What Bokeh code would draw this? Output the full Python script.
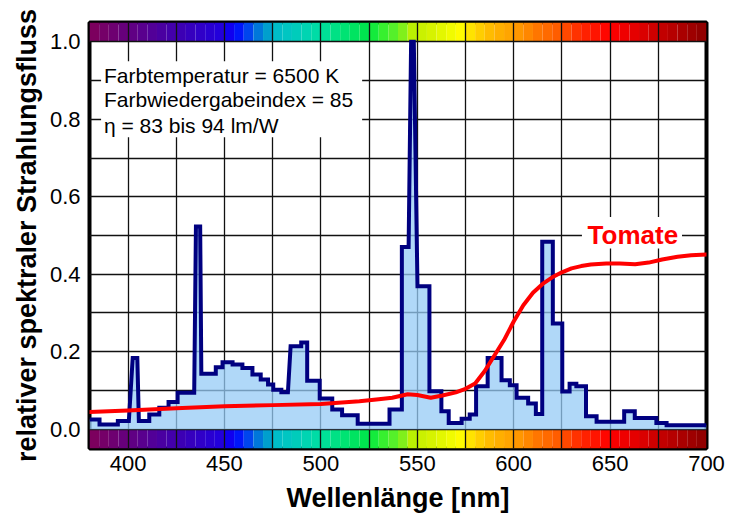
import numpy as np
from bokeh.plotting import figure
from bokeh.models import FixedTicker, PrintfTickFormatter, BoxAnnotation, Label, Range1d
from bokeh.embed import file_html
from bokeh.resources import INLINE

# ---------------- data ----------------
spec_nm = [380, 385.2, 385.2, 394.7, 394.7, 400.4, 402.4, 404.8, 405.6, 411.0, 411.0, 416.2, 416.2,
           421.0, 421.0, 425.7, 425.7, 434.3, 435.2, 437.4, 438.0, 445.5, 445.5, 449.0, 449.0,
           454.2, 454.2, 459.3, 459.3, 464.5, 464.5, 468.8, 468.8, 472.6, 472.6, 475.3, 475.3,
           479.5, 479.5, 482.9, 484.3, 489.8, 489.8, 492.9, 492.9, 499.4, 499.4, 505.9, 505.9,
           511.0, 511.0, 519.1, 519.1, 535.6, 535.6, 542.0, 542.0, 545.5, 546.8, 548.2, 550.1,
           556.3, 556.3, 562.5, 562.5, 566.3, 566.3, 573.0, 573.0, 577.2, 577.2, 580.5, 580.5,
           586.5, 586.5, 593.7, 593.7, 598.0, 598.0, 601.5, 601.5, 607.5, 607.5, 611.5, 611.5,
           614.8, 614.8, 620.3, 620.3, 625.2, 625.2, 629.0, 629.0, 632.5, 632.5, 637.5, 637.5,
           643.0, 643.0, 657.3, 657.3, 662.8, 662.8, 674.0, 674.0, 679.3, 679.3, 700]
spec_val = [0.025, 0.025, 0.012, 0.012, 0.021, 0.021, 0.184, 0.184, 0.021, 0.021, 0.038, 0.038, 0.055,
            0.055, 0.070, 0.070, 0.094, 0.094, 0.523, 0.523, 0.143, 0.143, 0.160, 0.160, 0.173,
            0.173, 0.167, 0.167, 0.158, 0.158, 0.141, 0.141, 0.128, 0.128, 0.115, 0.115, 0.102,
            0.102, 0.095, 0.095, 0.214, 0.214, 0.224, 0.224, 0.125, 0.125, 0.079, 0.079, 0.051,
            0.051, 0.036, 0.036, 0.014, 0.014, 0.051, 0.051, 0.470, 0.470, 1.000, 1.000, 0.369,
            0.369, 0.098, 0.098, 0.046, 0.046, 0.016, 0.016, 0.027, 0.027, 0.038, 0.038, 0.111,
            0.111, 0.184, 0.184, 0.126, 0.126, 0.113, 0.113, 0.081, 0.081, 0.066, 0.066, 0.039,
            0.039, 0.484, 0.484, 0.273, 0.273, 0.097, 0.097, 0.117, 0.117, 0.111, 0.111, 0.033,
            0.033, 0.019, 0.019, 0.046, 0.046, 0.029, 0.029, 0.016, 0.016, 0.010, 0.010]

tomato_nm = [380, 400, 425, 450, 475, 500, 520, 530, 537, 545, 550, 557, 563, 570, 575, 580, 585,
             590, 595, 600, 605, 610, 615, 620, 625, 630, 635, 640, 648, 655, 663, 670, 677, 685,
             692, 700]
tomato_val = [0.044, 0.048, 0.054, 0.059, 0.062, 0.065, 0.072, 0.077, 0.081, 0.090, 0.088, 0.081,
              0.087, 0.095, 0.104, 0.118, 0.150, 0.190, 0.230, 0.278, 0.320, 0.352, 0.375, 0.392,
              0.405, 0.415, 0.421, 0.425, 0.428, 0.428, 0.426, 0.430, 0.438, 0.445, 0.449, 0.451]

x_ticks = [400, 450, 500, 550, 600, 650, 700]
y_ticks = [0.0, 0.2, 0.4, 0.6, 0.8, 1.0]
x_grid = [400, 425, 450, 475, 500, 525, 550, 575, 600, 625, 650, 675, 700]
y_grid = [0.0, 0.1, 0.2, 0.3, 0.4, 0.5, 0.6, 0.7, 0.8, 0.9, 1.0]

info_lines = ["Farbtemperatur = 6500 K", "Farbwiedergabeindex = 85", "η = 83 bis 94 lm/W"]
curve_label = "Tomate"
x_title = "Wellenlänge [nm]"
y_title = "relativer spektraler Strahlungsfluss"

# colour strip (decoration): 5 nm cells, colours from anchor points
strip_left = list(range(380, 700, 5))
strip_anchor_nm = [380, 400, 425, 450, 455, 462, 470, 478, 490, 500, 525, 530, 540, 548, 560,
                   572, 580, 590, 600, 612, 622, 635, 650, 665, 675, 700]
strip_anchor_rgb = [(128, 0, 90), (100, 0, 128), (64, 0, 176), (32, 0, 224), (0, 0, 255),
                    (0, 64, 240), (0, 144, 208), (0, 192, 200), (0, 208, 184), (0, 224, 160),
                    (0, 230, 70), (40, 240, 50), (100, 240, 40), (192, 240, 0), (220, 245, 0),
                    (255, 255, 0), (255, 215, 0), (255, 180, 0), (255, 160, 0), (255, 120, 0),
                    (255, 96, 0), (255, 40, 0), (255, 0, 0), (224, 0, 0), (200, 0, 0), (140, 0, 0)]

centers = np.array(strip_left) + 2.5
rgb = np.array(strip_anchor_rgb, dtype=float)
strip_colors = []
for c in centers:
    r = np.interp(c, strip_anchor_nm, rgb[:, 0])
    g = np.interp(c, strip_anchor_nm, rgb[:, 1])
    b = np.interp(c, strip_anchor_nm, rgb[:, 2])
    strip_colors.append("#%02x%02x%02x" % (int(r), int(g), int(b)))
strip_right = [v + 5 for v in strip_left]

FONT = "Liberation Sans"

# ---------------- figure ----------------
p = figure(width=733, height=522, x_range=Range1d(380, 700), y_range=Range1d(-0.05, 1.05),
           output_backend="svg", toolbar_location=None,
           min_border_left=89, min_border_right=27, min_border_top=22, min_border_bottom=74)
p.background_fill_color = "white"
p.border_fill_color = "white"
p.outline_line_color = "black"
p.outline_line_width = 4

# strips (drawn below grid)
top_strip = p.quad(left=strip_left, right=strip_right, bottom=1.0, top=1.05,
                   fill_color=strip_colors, line_color=None)
bot_strip = p.quad(left=strip_left, right=strip_right, bottom=-0.05, top=0.0,
                   fill_color=strip_colors, line_color=None)
top_strip.level = "image"
bot_strip.level = "image"

# grid
p.xgrid.ticker = FixedTicker(ticks=x_grid)
p.ygrid.ticker = FixedTicker(ticks=y_grid)
p.grid.grid_line_color = "#111111"
p.grid.grid_line_width = 1.3

# spectrum
p.varea(x=spec_nm, y1=0, y2=spec_val, fill_color="#96cbf6", fill_alpha=0.75)
p.line(spec_nm, spec_val, line_color="#000080", line_width=4, line_join="miter")

# tomato curve
p.line(tomato_nm, tomato_val, line_color="#ff0000", line_width=4, line_join="round",
       line_cap="round")

# info box
p.add_layout(BoxAnnotation(left=386.0, right=521.4, bottom=0.754, top=0.950,
                           fill_color="white", fill_alpha=1.0, line_color=None))
for txt, yb in zip(info_lines, [0.9144, 0.8516, 0.7852]):
    p.add_layout(Label(x=387.5, y=yb, text=txt, text_font=FONT, text_font_size="21px",
                       text_baseline="alphabetic", text_align="left", text_color="black"))

# Tomate label
p.add_layout(BoxAnnotation(left=635.4, right=687.3, bottom=0.4667, top=0.5475,
                           fill_color="white", fill_alpha=1.0, line_color=None))
p.add_layout(Label(x=661.8, y=0.501, text=curve_label, text_font=FONT, text_font_size="26px",
                   text_font_style="bold", text_baseline="alphabetic", text_align="center",
                   text_color="#ff0000"))

# axes
p.xaxis.ticker = FixedTicker(ticks=x_ticks)
p.yaxis.ticker = FixedTicker(ticks=y_ticks)
p.yaxis.formatter = PrintfTickFormatter(format="%.1f")
for ax in (p.xaxis[0], p.yaxis[0]):
    ax.axis_line_color = None
    ax.major_tick_line_color = None
    ax.minor_tick_line_color = None
    ax.major_tick_out = 0
    ax.major_tick_in = 0
    ax.minor_tick_out = 0
    ax.minor_tick_in = 0
    ax.major_label_text_font = FONT
    ax.major_label_text_font_size = "22px"
    ax.major_label_text_color = "black"
    ax.axis_label_text_font = FONT
    ax.axis_label_text_font_size = "27px"
    ax.axis_label_text_font_style = "bold"
    ax.axis_label_text_color = "black"
p.xaxis.axis_label = x_title
p.yaxis.axis_label = y_title
p.xaxis.major_label_standoff = 7
p.yaxis.major_label_standoff = 9
p.xaxis.axis_label_standoff = 9
p.yaxis.axis_label_standoff = 5

open("out.html", "w").write(file_html(p, INLINE))
